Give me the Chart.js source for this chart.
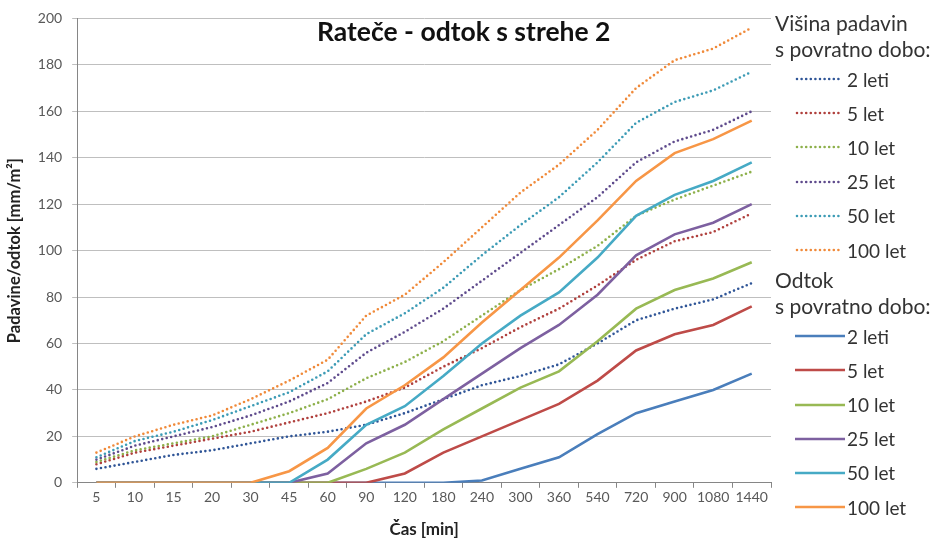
<!DOCTYPE html>
<html>
<head>
<meta charset="utf-8">
<script src="https://cdn.jsdelivr.net/npm/chart.js@4"></script>
<style>
  html, body { margin: 0; padding: 0; background: #fff; }
  #wrap { position: relative; width: 934px; height: 545px; font-family: Lato, 'Open Sans', sans-serif; }
  #chart { position: absolute; left: 0; top: 0; }
  #title { position: absolute; left: 317px; top: 15px; font-size: 26.5px; font-weight: bold; color: #111; white-space: nowrap; }
  #legend { position: absolute; left: 775px; top: 10px; width: 159px; color: #333; }
  .head { font-size: 21px; line-height: 26px; height: 26px; white-space: nowrap; }
  .item { height: 34.2px; display: flex; align-items: center; font-size: 19px; padding-left: 20px; white-space: nowrap; }
  .item svg { margin-right: 2px; }
</style>
</head>
<body>
<div id="wrap">
  <canvas id="chart" width="934" height="545"></canvas>
  <div id="title">Rateče - odtok s strehe 2</div>
  <div id="legend"></div>
</div>
<script>
// Čas [min]
const labels = ['5', '10', '15', '20', '30', '45', '60', '90', '120', '180', '240', '300', '360', '540', '720', '900', '1080', '1440'];
const returnPeriods = ['2 leti', '5 let', '10 let', '25 let', '50 let', '100 let'];
const colors = ['#4A7EBB', '#BE4B48', '#98B954', '#7D60A0', '#46AAC5', '#F79646'];
const dotColors = ['#2F5597', '#B0403D', '#8DB04A', '#5E4A8C', '#3C9BB5', '#F08A3A'];

// Višina padavin (dotted)
const padavine2 = [6, 9, 12, 14, 17, 20, 22, 25, 30, 36, 42, 46, 51, 60, 70, 75, 79, 86];
const padavine5 = [8, 13, 16, 19, 22, 26, 30, 35, 41, 50, 58, 67, 75, 85, 96, 104, 108, 116];
const padavine10 = [9, 14, 17, 20, 25, 30, 36, 45, 52, 61, 72, 83, 92, 102, 115, 122, 128, 134];
const padavine25 = [10, 16, 20, 24, 29, 35, 43, 56, 65, 75, 87, 99, 111, 123, 138, 147, 152, 160];
const padavine50 = [11, 18, 22, 27, 33, 39, 48, 64, 73, 84, 98, 111, 123, 138, 155, 164, 169, 177];
const padavine100 = [13, 20, 25, 29, 36, 44, 53, 72, 81, 95, 110, 125, 137, 152, 170, 182, 187, 196];

// Odtok (solid)
const odtok2 = [0, 0, 0, 0, 0, 0, 0, 0, 0, 0, 1, 6, 11, 21, 30, 35, 40, 47];
const odtok5 = [0, 0, 0, 0, 0, 0, 0, 0, 4, 13, 20, 27, 34, 44, 57, 64, 68, 76];
const odtok10 = [0, 0, 0, 0, 0, 0, 0, 6, 13, 23, 32, 41, 48, 61, 75, 83, 88, 95];
const odtok25 = [0, 0, 0, 0, 0, 0, 4, 17, 25, 36, 47, 58, 68, 81, 98, 107, 112, 120];
const odtok50 = [0, 0, 0, 0, 0, 0, 10, 25, 33, 46, 60, 72, 82, 97, 115, 124, 130, 138];
const odtok100 = [0, 0, 0, 0, 0, 5, 15, 32, 42, 54, 69, 83, 97, 113, 130, 142, 148, 156];

const padavine = [padavine2, padavine5, padavine10, padavine25, padavine50, padavine100];
const odtok = [odtok2, odtok5, odtok10, odtok25, odtok50, odtok100];

const datasets = [];
padavine.forEach((d, i) => {
    datasets.push({
        label: returnPeriods[i],
        data: d,
        borderColor: dotColors[i],
        borderWidth: 2.6,
        borderDash: [0, 4.6],
        borderCapStyle: 'round',
        pointRadius: 0,
        fill: false,
        tension: 0
    });
});
odtok.forEach((d, i) => {
    datasets.push({
        label: returnPeriods[i],
        data: d,
        borderColor: colors[i],
        borderWidth: 2.6,
        pointRadius: 0,
        fill: false,
        tension: 0
    });
});
// later series on top, like the original
datasets.forEach((ds, i) => { ds.order = datasets.length - i; });

const tickFont = { family: 'Lato', size: 14 };

new Chart(document.getElementById('chart'), {
    type: 'line',
    data: { labels: labels, datasets: datasets },
    options: {
        responsive: false,
        animation: false,
        layout: { padding: { left: 5, right: 163, top: 10, bottom: 5 } },
        plugins: {
            legend: { display: false },
            tooltip: { enabled: false }
        },
        scales: {
            x: {
                offset: true,
                grid: {
                    offset: true,
                    drawOnChartArea: false,
                    drawTicks: true,
                    tickLength: 5,
                    color: '#868686'
                },
                border: { color: '#868686' },
                ticks: { color: '#595959', font: tickFont, maxRotation: 0, autoSkip: false, padding: 1 },
                title: {
                    display: true,
                    text: 'Čas [min]',
                    color: '#222',
                    font: { family: 'Lato', size: 17, weight: 'bold' },
                    padding: { top: 13, bottom: 0 }
                }
            },
            y: {
                min: 0,
                max: 200,
                ticks: { stepSize: 20, color: '#595959', font: tickFont, padding: 10 },
                grid: { color: '#BFBFBF', tickLength: 5, lineWidth: 1 },
                border: { color: '#868686' },
                title: {
                    display: true,
                    text: 'Padavine/odtok [mm/m²]',
                    color: '#222',
                    font: { family: 'Lato', size: 16.5, weight: 'bold' },
                    padding: { top: 0, bottom: 3 }
                }
            }
        }
    }
});

// legend with two headings
function sample(color, dotted) {
    const dash = dotted ? 'stroke-dasharray="0 4.6" stroke-linecap="round"' : '';
    const x1 = dotted ? 2 : 0;
    const x2 = dotted ? 45 : 50;
    return '<svg width="50" height="6"><line x1="' + x1 + '" y1="3" x2="' + x2 + '" y2="3" stroke="' + color +
        '" stroke-width="2.6" ' + dash + '/></svg>';
}
let html = '<div class="head">Višina padavin</div><div class="head">s povratno dobo:</div>';
returnPeriods.forEach((p, i) => {
    html += '<div class="item">' + sample(dotColors[i], true) + p + '</div>';
});
html += '<div class="head">Odtok</div><div class="head">s povratno dobo:</div>';
returnPeriods.forEach((p, i) => {
    html += '<div class="item">' + sample(colors[i], false) + p + '</div>';
});
document.getElementById('legend').innerHTML = html;
</script>
</body>
</html>
